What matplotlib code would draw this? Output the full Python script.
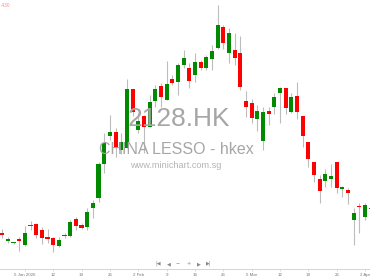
import matplotlib
matplotlib.use("Agg")
import matplotlib.pyplot as plt
import numpy as np

# OHLC values (HKD)
opens = [3.67, 3.59, 3.565, 3.605, 3.545, 3.735, 3.755, 3.70, 3.633, 3.615,
         3.54, 3.642, 3.64, 3.81, 3.75, 3.733, 3.923, 4.017, 4.36, 4.64,
         4.683, 4.50, 4.517, 5.105, 4.70, 4.84, 4.733, 4.993, 5.14, 5.00,
         5.207, 5.183, 5.35, 5.317, 5.25, 5.383, 5.323, 5.407, 5.517, 5.733,
         5.473, 5.50, 5.467, 4.99, 4.967, 4.807, 4.59, 4.893, 4.933, 5.067,
         5.117, 4.877, 5.04, 4.84, 4.583, 4.377, 4.207, 4.193, 4.21, 4.377,
         4.113, 4.10, 3.80, 3.94, 3.833, 3.923]
highs = [3.71, 3.63, 3.575, 3.625, 3.74, 3.79, 3.765, 3.725, 3.705, 3.633,
         3.633, 3.665, 3.80, 3.833, 3.767, 3.917, 4.00, 4.383, 4.667, 4.85,
         4.717, 4.667, 5.207, 5.11, 4.867, 4.85, 5.05, 5.15, 5.167, 5.393,
         5.25, 5.367, 5.50, 5.367, 5.467, 5.40, 5.45, 5.55, 5.95, 5.75,
         5.717, 5.667, 5.64, 5.093, 5.007, 4.95, 4.933, 4.933, 5.073, 5.133,
         5.117, 5.067, 5.183, 4.84, 4.583, 4.377, 4.25, 4.307, 4.36, 4.377,
         4.14, 4.117, 3.917, 3.973, 3.967, 3.94]
lows = [3.62, 3.57, 3.555, 3.485, 3.54, 3.70, 3.62, 3.56, 3.57, 3.48,
        3.533, 3.62, 3.633, 3.70, 3.707, 3.70, 3.823, 3.983, 4.27, 4.60,
        4.433, 4.46, 4.515, 4.84, 4.667, 4.47, 4.727, 4.933, 4.933, 5.00,
        5.15, 5.05, 5.317, 5.117, 5.183, 5.30, 5.30, 5.30, 5.515, 5.507,
        5.367, 5.35, 5.10, 4.833, 4.767, 4.693, 4.50, 4.75, 4.86, 4.767,
        4.86, 4.867, 4.807, 4.533, 4.327, 4.183, 3.973, 4.133, 4.133, 4.067,
        4.033, 3.96, 3.55, 3.67, 3.80, 3.85]
closes = [3.65, 3.61, 3.57, 3.585, 3.665, 3.745, 3.645, 3.617, 3.61, 3.545,
          3.60, 3.65, 3.783, 3.743, 3.717, 3.883, 3.973, 4.36, 4.567, 4.683,
          4.517, 4.583, 5.107, 4.88, 4.793, 4.733, 4.983, 5.107, 5.033, 5.16,
          5.167, 5.35, 5.417, 5.19, 5.383, 5.323, 5.427, 5.493, 5.75, 5.567,
          5.673, 5.417, 5.133, 4.933, 4.817, 4.893, 4.877, 4.857, 5.027, 5.117,
          4.923, 5.033, 4.877, 4.64, 4.41, 4.25, 4.093, 4.263, 4.243, 4.123,
          4.133, 4.073, 3.867, 3.93, 3.95, 3.91]

tick_index = [4, 9, 14, 19, 24, 29, 34, 39, 44, 49, 54, 59, 64]
tick_labels = ["5 Jan 2026", "12", "19", "26", "2 Feb", "9", "16", "26",
               "5 Mar", "12", "19", "26", "2 Apr"]

W, H = 370, 278
fig = plt.figure(figsize=(W / 100, H / 100), dpi=100)
fig.patch.set_facecolor("white")
ax = fig.add_axes([0, 9 / H, 1, 269 / H])
ax.set_facecolor("white")

# watermark (behind candles)
fig.text(179 / W, 1 - 126 / H, "2128.HK", ha="center", va="baseline",
         fontsize=19, color="#a6a6a6", family="Liberation Sans", zorder=0)
fig.text(176 / W, 1 - 154 / H, "CHINA LESSO - hkex", ha="center", va="baseline",
         fontsize=11.5, color="#a6a6a6", family="Liberation Sans", zorder=0)
fig.text(175.5 / W, 1 - 168.5 / H, "www.minichart.com.sg", ha="center", va="baseline",
         fontsize=6.6, color="#b4b4b4", family="Liberation Sans", zorder=0)
ax.patch.set_alpha(0)

x = np.arange(len(opens))
o = np.array(opens); c = np.array(closes)
hi = np.array(highs); lo = np.array(lows)
up = c >= o
colors = np.where(up, "#008a00", "#ff0000")
bottom = np.minimum(o, c)
height = np.maximum(np.abs(c - o), 0.012)

ax.vlines(x, lo, hi, color="#bdbdbd", lw=0.8, zorder=2)
ax.bar(x, height, bottom=bottom, width=0.74, color=colors, linewidth=0, zorder=3)

ax.set_xlim(-0.39, 64.87)
ax.set_ylim(3.31, 6.00)

for s in ["left", "right", "top"]:
    ax.spines[s].set_visible(False)
ax.spines["bottom"].set_color("#d4d4d4")
ax.spines["bottom"].set_linewidth(0.7)
ax.set_yticks([])
ax.set_xticks(tick_index)
ax.set_xticklabels(tick_labels, fontsize=3.2, color="#777777", family="Liberation Sans")
ax.tick_params(axis="x", length=1.5, width=0.5, color="#cccccc", pad=1.6)

# navigation controls
nav = [(158, "|◀"), (169, "◀"), (178, "−"), (189, "+"), (199, "▶"), (209, "▶|")]
for px, s in nav:
    fig.text(px / W, 1 - 263.5 / H, s, ha="center", va="center",
             fontsize=3.6, color="#888888", family="DejaVu Sans")

# top-left price label
fig.text(0.5 / W, 1 - 5.5 / H, ".430", ha="left", va="center",
         fontsize=3.5, color="#ff8c8c", family="Liberation Sans")

fig.savefig("out.png", dpi=100, facecolor="white")
